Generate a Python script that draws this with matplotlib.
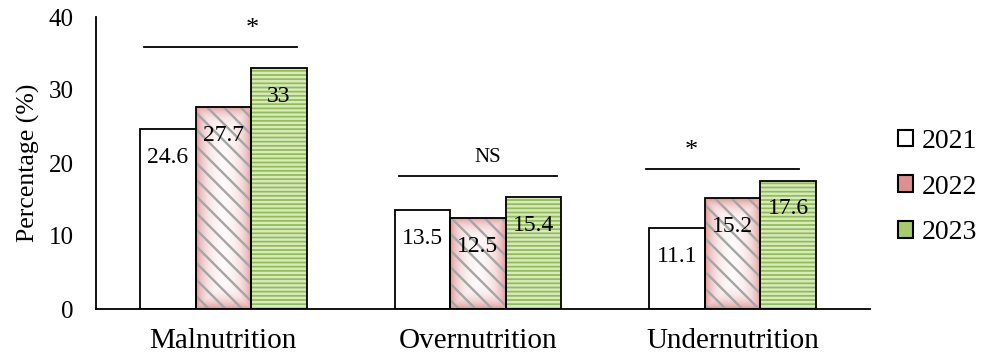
import matplotlib
matplotlib.use("Agg")
import matplotlib.pyplot as plt
import numpy as np
from matplotlib.patches import Patch
from matplotlib.colors import to_rgb

plt.rcParams['font.family'] = ['Liberation Serif', 'DejaVu Serif']
plt.rcParams['hatch.linewidth'] = 1.7

categories = ["Malnutrition", "Overnutrition", "Undernutrition"]
years = ["2021", "2022", "2023"]
v2021 = [24.6, 13.5, 11.1]
v2022 = [27.7, 12.5, 15.2]
v2023 = [33, 15.4, 17.6]
sig_labels = ["*", "NS", "*"]
sig_heights = [35.9, 18.2, 19.2]
sig_spans = [(-0.31, 0.29), (-0.31, 0.31), (-0.34, 0.26)]
sig_text_dx = [0.114, 0.04, -0.16]

fig = plt.figure(figsize=(9.82, 3.59), dpi=100)
ax = fig.add_axes([96 / 982, 1 - 309 / 359, 774 / 982, 292 / 359])
ax.set_xlim(-0.5, 2.54)
ax.set_ylim(0, 40)

x = np.arange(len(categories))
w = 0.218
offsets = [-w, 0, w]

# 2021: plain white
ax.bar(x + offsets[0], v2021, w, color="white", linewidth=0, zorder=2)

# 2022: pink edge gradient with grey diagonal stripes
pink = np.array(to_rgb("#df9292"))
white = np.ones(3)
for xi, v in zip(x + offsets[1], v2022):
    p0 = ax.transData.transform((xi - w / 2, 0))
    p1 = ax.transData.transform((xi + w / 2, v))
    wpx = max(int(p1[0] - p0[0]), 2)
    hpx = max(int(p1[1] - p0[1]), 2)
    xx = np.arange(wpx) + 0.5
    yy = np.arange(hpx) + 0.5
    dx = np.minimum(xx, wpx - xx)[None, :]
    dy = np.minimum(yy, hpx - yy)[:, None]
    d = np.minimum(dx, dy)
    t = np.exp(-d / 9.0)[..., None]
    img = white * (1 - t) + pink * t
    ax.imshow(img, extent=(xi - w / 2, xi + w / 2, 0, v), origin="lower",
              aspect="auto", interpolation="bilinear", zorder=1.5)
ax.bar(x + offsets[1], v2022, w, fill=False, hatch="\\\\", edgecolor="#a5a5a5",
       linewidth=0, zorder=2)

# 2023: green with light horizontal stripes
ax.bar(x + offsets[2], v2023, w, color="#92bd52", hatch="----", edgecolor="#d9eac2",
       linewidth=0, zorder=2)

ax.set_xlim(-0.5, 2.54)
ax.set_ylim(0, 40)

for vals, off in zip([v2021, v2022, v2023], offsets):
    ax.bar(x + off, vals, w, fill=False, edgecolor="black", linewidth=1.3, zorder=3)
    for xi, v in zip(x + off, vals):
        ax.text(xi, v - 3.9, f"{v:g}", ha="center", va="center", fontsize=17, zorder=4)

for xi, lab, hgt, (a, b), tdx in zip(x, sig_labels, sig_heights, sig_spans, sig_text_dx):
    ax.plot([xi + a, xi + b], [hgt, hgt], color="black", lw=1.3, zorder=3)
    if lab == "*":
        ax.text(xi + tdx, hgt + 0.9, lab, ha="center", va="bottom", fontsize=19)
    else:
        ax.text(xi + tdx, hgt + 1.3, lab, ha="center", va="bottom", fontsize=15)

ax.set_yticks([0, 10, 20, 30, 40])
ax.set_xticks(x)
ax.set_xticklabels(categories, fontsize=21)
ax.tick_params(axis="y", labelsize=18, length=0, pad=16)
ax.tick_params(axis="x", length=0, pad=14)
ax.set_ylabel("Percentage (%)", fontsize=18.5, labelpad=6)
for s in ["top", "right"]:
    ax.spines[s].set_visible(False)
ax.spines["left"].set_linewidth(1.3)
ax.spines["bottom"].set_linewidth(1.3)

handles = [Patch(facecolor="white", edgecolor="black", linewidth=1.5),
           Patch(facecolor="#dc9090", edgecolor="black", linewidth=1.5),
           Patch(facecolor="#a6cb6c", edgecolor="black", linewidth=1.5)]
fig.legend(handles, years, loc="center left", bbox_to_anchor=(0.889, 0.479), frameon=False,
           fontsize=20, handlelength=0.55, handleheight=0.55, handletextpad=0.3,
           labelspacing=0.75)

fig.savefig("out.png", dpi=100)
